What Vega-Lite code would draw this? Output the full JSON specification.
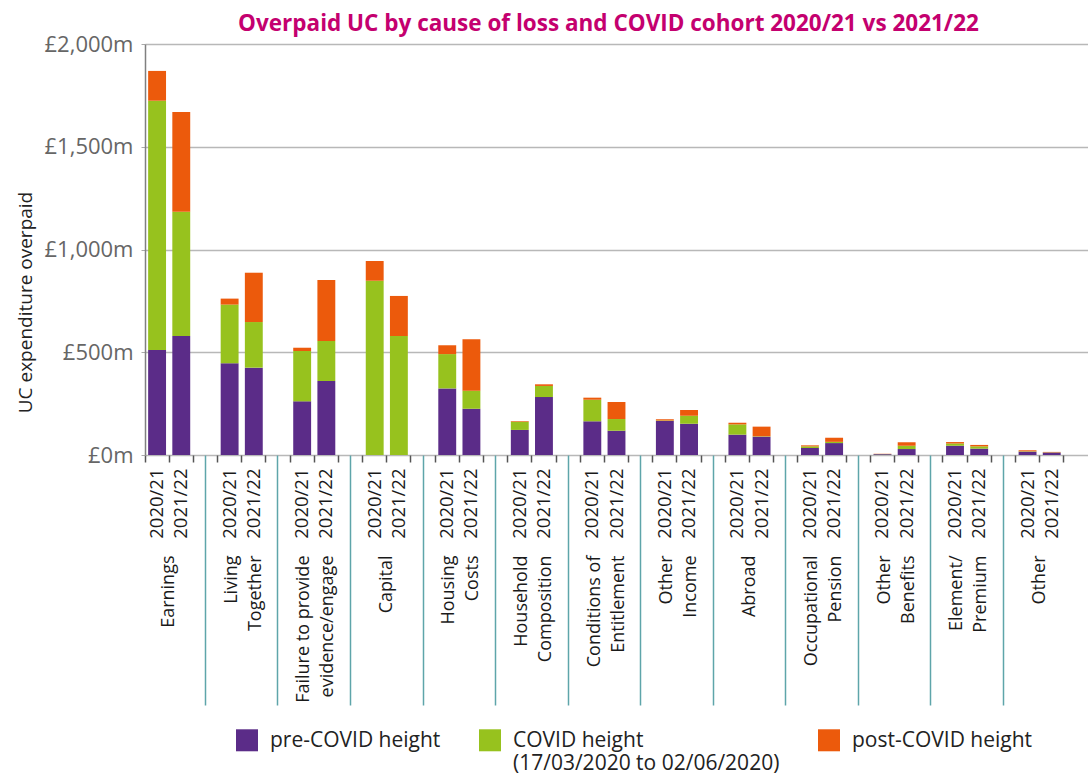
{
  "$schema": "https://vega.github.io/schema/vega-lite/v6.json",
  "width": 943,
  "height": 411,
  "autosize": {"type": "none"},
  "padding": {"left": 145, "top": 44, "right": 0, "bottom": 321},
  "background": "white",
  "config": {"font": "Open Sans", "view": {"stroke": null}},
  "title": {"text": "Overpaid UC by cause of loss and COVID cohort 2020/21 vs 2021/22", "color": "#c4006f", "fontSize": 22.5, "fontWeight": "bold", "font": "Open Sans", "anchor": "middle", "offset": -2, "dx": -8},
  "data": {"values": [
    {"slot": "Earnings|2020/21", "part": "pre-COVID height", "value": 511},
    {"slot": "Earnings|2020/21", "part": "COVID height", "value": 1213},
    {"slot": "Earnings|2020/21", "part": "post-COVID height", "value": 145},
    {"slot": "Earnings|2021/22", "part": "pre-COVID height", "value": 579},
    {"slot": "Earnings|2021/22", "part": "COVID height", "value": 605},
    {"slot": "Earnings|2021/22", "part": "post-COVID height", "value": 485},
    {"slot": "Living~Together|2020/21", "part": "pre-COVID height", "value": 446},
    {"slot": "Living~Together|2020/21", "part": "COVID height", "value": 286},
    {"slot": "Living~Together|2020/21", "part": "post-COVID height", "value": 29},
    {"slot": "Living~Together|2021/22", "part": "pre-COVID height", "value": 425},
    {"slot": "Living~Together|2021/22", "part": "COVID height", "value": 222},
    {"slot": "Living~Together|2021/22", "part": "post-COVID height", "value": 240},
    {"slot": "Failure to provide~evidence/engage|2020/21", "part": "pre-COVID height", "value": 261},
    {"slot": "Failure to provide~evidence/engage|2020/21", "part": "COVID height", "value": 245},
    {"slot": "Failure to provide~evidence/engage|2020/21", "part": "post-COVID height", "value": 16},
    {"slot": "Failure to provide~evidence/engage|2021/22", "part": "pre-COVID height", "value": 360},
    {"slot": "Failure to provide~evidence/engage|2021/22", "part": "COVID height", "value": 195},
    {"slot": "Failure to provide~evidence/engage|2021/22", "part": "post-COVID height", "value": 297},
    {"slot": "Capital|2020/21", "part": "pre-COVID height", "value": 0},
    {"slot": "Capital|2020/21", "part": "COVID height", "value": 848},
    {"slot": "Capital|2020/21", "part": "post-COVID height", "value": 96},
    {"slot": "Capital|2021/22", "part": "pre-COVID height", "value": 0},
    {"slot": "Capital|2021/22", "part": "COVID height", "value": 579},
    {"slot": "Capital|2021/22", "part": "post-COVID height", "value": 195},
    {"slot": "Housing~Costs|2020/21", "part": "pre-COVID height", "value": 324},
    {"slot": "Housing~Costs|2020/21", "part": "COVID height", "value": 167},
    {"slot": "Housing~Costs|2020/21", "part": "post-COVID height", "value": 43},
    {"slot": "Housing~Costs|2021/22", "part": "pre-COVID height", "value": 225},
    {"slot": "Housing~Costs|2021/22", "part": "COVID height", "value": 88},
    {"slot": "Housing~Costs|2021/22", "part": "post-COVID height", "value": 250},
    {"slot": "Household~Composition|2020/21", "part": "pre-COVID height", "value": 122},
    {"slot": "Household~Composition|2020/21", "part": "COVID height", "value": 40},
    {"slot": "Household~Composition|2020/21", "part": "post-COVID height", "value": 3},
    {"slot": "Household~Composition|2021/22", "part": "pre-COVID height", "value": 282},
    {"slot": "Household~Composition|2021/22", "part": "COVID height", "value": 54},
    {"slot": "Household~Composition|2021/22", "part": "post-COVID height", "value": 8},
    {"slot": "Conditions of~Entitlement|2020/21", "part": "pre-COVID height", "value": 164},
    {"slot": "Conditions of~Entitlement|2020/21", "part": "COVID height", "value": 105},
    {"slot": "Conditions of~Entitlement|2020/21", "part": "post-COVID height", "value": 10},
    {"slot": "Conditions of~Entitlement|2021/22", "part": "pre-COVID height", "value": 118},
    {"slot": "Conditions of~Entitlement|2021/22", "part": "COVID height", "value": 57},
    {"slot": "Conditions of~Entitlement|2021/22", "part": "post-COVID height", "value": 83},
    {"slot": "Other~Income|2020/21", "part": "pre-COVID height", "value": 166},
    {"slot": "Other~Income|2020/21", "part": "COVID height", "value": 2},
    {"slot": "Other~Income|2020/21", "part": "post-COVID height", "value": 6},
    {"slot": "Other~Income|2021/22", "part": "pre-COVID height", "value": 152},
    {"slot": "Other~Income|2021/22", "part": "COVID height", "value": 39},
    {"slot": "Other~Income|2021/22", "part": "post-COVID height", "value": 28},
    {"slot": "Abroad|2020/21", "part": "pre-COVID height", "value": 99},
    {"slot": "Abroad|2020/21", "part": "COVID height", "value": 50},
    {"slot": "Abroad|2020/21", "part": "post-COVID height", "value": 8},
    {"slot": "Abroad|2021/22", "part": "pre-COVID height", "value": 89},
    {"slot": "Abroad|2021/22", "part": "COVID height", "value": 2},
    {"slot": "Abroad|2021/22", "part": "post-COVID height", "value": 47},
    {"slot": "Occupational~Pension|2020/21", "part": "pre-COVID height", "value": 34},
    {"slot": "Occupational~Pension|2020/21", "part": "COVID height", "value": 8},
    {"slot": "Occupational~Pension|2020/21", "part": "post-COVID height", "value": 5},
    {"slot": "Occupational~Pension|2021/22", "part": "pre-COVID height", "value": 58},
    {"slot": "Occupational~Pension|2021/22", "part": "COVID height", "value": 6},
    {"slot": "Occupational~Pension|2021/22", "part": "post-COVID height", "value": 20},
    {"slot": "Other~Benefits|2020/21", "part": "pre-COVID height", "value": 4},
    {"slot": "Other~Benefits|2020/21", "part": "COVID height", "value": 1},
    {"slot": "Other~Benefits|2020/21", "part": "post-COVID height", "value": 1},
    {"slot": "Other~Benefits|2021/22", "part": "pre-COVID height", "value": 29},
    {"slot": "Other~Benefits|2021/22", "part": "COVID height", "value": 16},
    {"slot": "Other~Benefits|2021/22", "part": "post-COVID height", "value": 17},
    {"slot": "Element/~Premium|2020/21", "part": "pre-COVID height", "value": 45},
    {"slot": "Element/~Premium|2020/21", "part": "COVID height", "value": 11},
    {"slot": "Element/~Premium|2020/21", "part": "post-COVID height", "value": 7},
    {"slot": "Element/~Premium|2021/22", "part": "pre-COVID height", "value": 31},
    {"slot": "Element/~Premium|2021/22", "part": "COVID height", "value": 11},
    {"slot": "Element/~Premium|2021/22", "part": "post-COVID height", "value": 7},
    {"slot": "Other|2020/21", "part": "pre-COVID height", "value": 16},
    {"slot": "Other|2020/21", "part": "COVID height", "value": 2},
    {"slot": "Other|2020/21", "part": "post-COVID height", "value": 5},
    {"slot": "Other|2021/22", "part": "pre-COVID height", "value": 12},
    {"slot": "Other|2021/22", "part": "COVID height", "value": 1},
    {"slot": "Other|2021/22", "part": "post-COVID height", "value": 2}
  ]},
  "layer": [
    {
      "transform": [{"calculate": "indexof(['pre-COVID height', 'COVID height', 'post-COVID height'], datum.part)", "as": "stackorder"}],
      "mark": {"type": "bar", "width": {"band": 0.74}},
      "encoding": {
        "x": {
          "field": "slot", "type": "nominal",
          "scale": {"paddingInner": 0, "paddingOuter": 0, "domain": [
            "Earnings|2020/21", "Earnings|2021/22", "Earnings|gap",
            "Living~Together|2020/21", "Living~Together|2021/22", "Living~Together|gap",
            "Failure to provide~evidence/engage|2020/21", "Failure to provide~evidence/engage|2021/22", "Failure to provide~evidence/engage|gap",
            "Capital|2020/21", "Capital|2021/22", "Capital|gap",
            "Housing~Costs|2020/21", "Housing~Costs|2021/22", "Housing~Costs|gap",
            "Household~Composition|2020/21", "Household~Composition|2021/22", "Household~Composition|gap",
            "Conditions of~Entitlement|2020/21", "Conditions of~Entitlement|2021/22", "Conditions of~Entitlement|gap",
            "Other~Income|2020/21", "Other~Income|2021/22", "Other~Income|gap",
            "Abroad|2020/21", "Abroad|2021/22", "Abroad|gap",
            "Occupational~Pension|2020/21", "Occupational~Pension|2021/22", "Occupational~Pension|gap",
            "Other~Benefits|2020/21", "Other~Benefits|2021/22", "Other~Benefits|gap",
            "Element/~Premium|2020/21", "Element/~Premium|2021/22", "Element/~Premium|gap",
            "Other|2020/21", "Other|2021/22", "Other|gap"
          ]},
          "axis": {
            "title": null, "orient": "bottom",
            "values": [
              "Earnings|2020/21", "Earnings|2021/22",
              "Living~Together|2020/21", "Living~Together|2021/22",
              "Failure to provide~evidence/engage|2020/21", "Failure to provide~evidence/engage|2021/22",
              "Capital|2020/21", "Capital|2021/22",
              "Housing~Costs|2020/21", "Housing~Costs|2021/22",
              "Household~Composition|2020/21", "Household~Composition|2021/22",
              "Conditions of~Entitlement|2020/21", "Conditions of~Entitlement|2021/22",
              "Other~Income|2020/21", "Other~Income|2021/22",
              "Abroad|2020/21", "Abroad|2021/22",
              "Occupational~Pension|2020/21", "Occupational~Pension|2021/22",
              "Other~Benefits|2020/21", "Other~Benefits|2021/22",
              "Element/~Premium|2020/21", "Element/~Premium|2021/22",
              "Other|2020/21", "Other|2021/22"
            ],
            "labelExpr": "split(datum.value, '|')[1]",
            "labelAngle": -90, "labelAlign": "right", "labelBaseline": "middle",
            "labelFontSize": 18.5, "labelColor": "#1a1a1a", "labelPadding": 13,
            "labelOverlap": false, "labelBound": false, "labelFlush": false,
            "ticks": false, "tickSize": 0, "domain": false, "grid": false
          }
        },
        "y": {
          "field": "value", "type": "quantitative", "stack": "zero",
          "scale": {"domain": [0, 2000], "nice": false},
          "axis": {
            "values": [0, 500, 1000, 1500, 2000],
            "labelExpr": "'£' + format(datum.value, ',') + 'm'",
            "title": "UC expenditure overpaid",
            "grid": true, "gridColor": "#b8b8b8", "gridWidth": 1.5,
            "domain": true, "domainColor": "#808080", "domainWidth": 1.5,
            "ticks": true, "tickSize": 4, "tickColor": "#aaaaaa",
            "labelPadding": 8, "labelFontSize": 22, "labelColor": "#666666",
            "titleFontSize": 19, "titleColor": "#222222", "titleFontWeight": "normal",
            "titleX": -120, "titleY": 258, "titleAngle": -90, "titleBaseline": "middle", "titleAlign": "center"
          }
        },
        "order": {"field": "stackorder", "type": "quantitative"},
        "color": {
          "field": "part", "type": "nominal",
          "scale": {"domain": ["pre-COVID height", "COVID height", "post-COVID height"], "range": ["#5b2c88", "#97c21e", "#ec5a0c"]},
          "legend": {
            "orient": "none", "legendX": 91, "legendY": 692, "direction": "horizontal",
            "title": null, "symbolType": "M-1,-1.61L1,-1.61L1,0.39L-1,0.39Z", "symbolSize": 484, "symbolStrokeWidth": 0,
            "labelFontSize": 21, "labelColor": "#222222", "labelOffset": 12, "columnPadding": 38,
            "labelLimit": 0, "padding": 0, "labelBaseline": "alphabetic", "labelLineHeight": 25,
            "labelExpr": "datum.label == 'COVID height' ? ['COVID height', '(17/03/2020 to 02/06/2020)'] : [datum.label, '']"
          }
        }
      }
    },
    {
      "mark": {"type": "rule", "opacity": 0},
      "encoding": {
        "x": {
          "field": "slot", "type": "nominal",
          "axis": {"title": null, "orient": "bottom", "labels": false, "ticks": true, "tickSize": 7, "tickColor": "#555555", "tickWidth": 1.5, "bandPosition": 0, "domain": false, "grid": false}
        }
      }
    },
    {
      "mark": {"type": "rule", "opacity": 0},
      "encoding": {
        "x": {
          "field": "slot", "type": "nominal",
          "axis": {
            "title": null, "orient": "bottom", "labels": false, "ticks": true, "tickSize": 250, "tickColor": "#5ea5aa", "tickWidth": 1.5, "bandPosition": 0.5, "domain": false, "grid": false,
            "values": [
              "Earnings|gap", "Living~Together|gap", "Failure to provide~evidence/engage|gap", "Capital|gap",
              "Housing~Costs|gap", "Household~Composition|gap", "Conditions of~Entitlement|gap", "Other~Income|gap",
              "Abroad|gap", "Occupational~Pension|gap", "Other~Benefits|gap", "Element/~Premium|gap"
            ]
          }
        }
      }
    },
    {
      "mark": {"type": "rule", "opacity": 0},
      "encoding": {
        "x": {
          "field": "slot", "type": "nominal",
          "axis": {
            "title": null, "orient": "bottom", "ticks": false, "tickSize": 0, "bandPosition": 0, "domain": false, "grid": false,
            "values": ["Earnings|2021/22", "Capital|2021/22", "Abroad|2021/22", "Other|2021/22"],
            "labelExpr": "split(split(datum.value, '|')[0], '~')",
            "labelAngle": -90, "labelAlign": "right", "labelBaseline": "middle", "labelLineHeight": 24, "labelOffset": -12,
            "labelFontSize": 18, "labelColor": "#1a1a1a", "labelPadding": 100, "labelLimit": 0,
            "labelOverlap": false, "labelBound": false, "labelFlush": false
          }
        }
      }
    },
    {
      "mark": {"type": "rule", "opacity": 0},
      "encoding": {
        "x": {
          "field": "slot", "type": "nominal",
          "axis": {
            "title": null, "orient": "bottom", "ticks": false, "tickSize": 0, "bandPosition": 0, "domain": false, "grid": false,
            "values": [
              "Living~Together|2021/22", "Failure to provide~evidence/engage|2021/22",
              "Housing~Costs|2021/22", "Household~Composition|2021/22", "Conditions of~Entitlement|2021/22", "Other~Income|2021/22",
              "Occupational~Pension|2021/22", "Other~Benefits|2021/22", "Element/~Premium|2021/22"
            ],
            "labelExpr": "split(split(datum.value, '|')[0], '~')",
            "labelAngle": -90, "labelAlign": "right", "labelBaseline": "middle", "labelLineHeight": 24, "labelOffset": -22,
            "labelFontSize": 18, "labelColor": "#1a1a1a", "labelPadding": 100, "labelLimit": 0,
            "labelOverlap": false, "labelBound": false, "labelFlush": false
          }
        }
      }
    }
  ],
  "resolve": {"axis": {"x": "independent"}}
}
